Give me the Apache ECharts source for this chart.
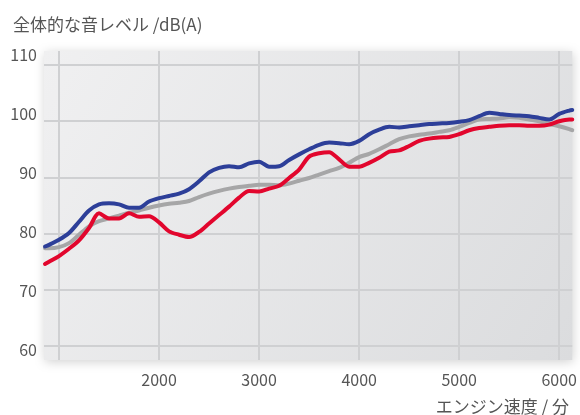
<!DOCTYPE html>
<html>
<head>
<meta charset="utf-8">
<script src="https://cdn.jsdelivr.net/npm/echarts@6/dist/echarts.min.js"></script>
<style>
  html, body { margin: 0; padding: 0; background: #fff; }
  #chart { width: 580px; height: 415px; }
</style>
</head>
<body>
<div id="chart"></div>
<script>
// engine speed (rpm) sample points, shared by all three curves
const rpm = [860, 900, 1000, 1100, 1200, 1300, 1400, 1500, 1600, 1700, 1800, 1900,
  2000, 2100, 2200, 2300, 2400, 2500, 2600, 2700, 2800, 2900,
  3000, 3100, 3200, 3300, 3400, 3500, 3600, 3700, 3800, 3900,
  4000, 4100, 4200, 4300, 4400, 4500, 4600, 4700, 4800, 4900,
  5000, 5100, 5200, 5300, 5400, 5500, 5600, 5700, 5800, 5900,
  6000, 6100, 6130];

const blueDb = [77.7, 78.0, 78.9, 80.1, 82.1, 84.1, 85.2, 85.4, 85.2, 84.6, 84.6, 85.7,
  86.3, 86.7, 87.1, 87.9, 89.3, 90.9, 91.7, 92.0, 91.8, 92.5,
  92.8, 91.9, 92.0, 93.1, 94.1, 95.0, 95.8, 96.2, 96.1, 95.9,
  96.5, 97.7, 98.5, 99.0, 98.9, 99.1, 99.3, 99.5, 99.6, 99.7,
  99.9, 100.2, 100.9, 101.5, 101.3, 101.1, 101.0, 100.9, 100.6, 100.3,
  101.3, 101.9, 102.0];

const redDb = [74.6, 75.0, 76.0, 77.3, 78.8, 81.0, 83.6, 82.7, 82.7, 83.6, 83.0, 83.1,
  82.0, 80.4, 79.8, 79.4, 80.3, 81.8, 83.3, 84.8, 86.4, 87.6,
  87.5, 88.0, 88.5, 89.9, 91.4, 93.7, 94.3, 94.5, 93.2, 91.9,
  91.9, 92.6, 93.5, 94.6, 94.8, 95.6, 96.5, 96.9, 97.1, 97.2,
  97.7, 98.4, 98.8, 99.0, 99.2, 99.3, 99.3, 99.2, 99.2, 99.4,
  100.0, 100.3, 100.3];

const grayDb = [77.4, 77.4, 77.6, 78.3, 79.8, 81.3, 82.2, 82.7, 83.2, 83.7, 84.1, 84.6,
  85.0, 85.3, 85.5, 85.8, 86.5, 87.1, 87.6, 88.0, 88.3, 88.5,
  88.7, 88.7, 88.6, 88.9, 89.4, 89.9, 90.5, 91.1, 91.7, 92.6,
  93.6, 94.2, 95.0, 95.9, 96.8, 97.3, 97.6, 97.8, 98.1, 98.4,
  99.0, 99.7, 100.3, 100.4, 100.5, 100.7, 100.6, 100.3, 100.0, 99.5,
  99.1, 98.6, 98.4];

const xGridTicks = [1000, 2000, 3000, 4000, 5000, 6000];
const xLabels = [2000, 3000, 4000, 5000, 6000];
const yTicks = [60, 70, 80, 90, 100, 110];

const chart = echarts.init(document.getElementById("chart"));

const pairs = (vals) => rpm.map((r, i) => [r, vals[i]]);
const textColor = "#555";
const font = "'Noto Sans CJK JP', 'Noto Sans', sans-serif";

const lineSeries = (name, vals, color) => ({
  name,
  type: "line",
  data: pairs(vals),
  showSymbol: false,
  smooth: 0.3,
  lineStyle: { color, width: 4, cap: "round", join: "round" },
  z: 3,
});

chart.setOption({
  animation: false,
  textStyle: { fontFamily: font },
  title: [
    {
      text: "全体的な音レベル /dB(A)",
      left: 8,
      top: 11,
      textStyle: { color: textColor, fontSize: 17, fontWeight: "normal", fontFamily: font },
    },
    {
      text: "エンジン速度 / 分",
      right: 6,
      top: 393,
      textStyle: { color: textColor, fontSize: 17, fontWeight: "normal", fontFamily: font },
    },
  ],
  grid: {
    left: 44,
    right: 7,
    top: 51,
    bottom: 55,
    show: true,
    borderWidth: 0,
    backgroundColor: {
      type: "linear",
      x: 0, y: 0, x2: 1, y2: 1,
      colorStops: [
        { offset: 0, color: "#f0f0f1" },
        { offset: 1, color: "#dbdcde" },
      ],
    },
    shadowBlur: 10,
    shadowColor: "rgba(0,0,0,0.18)",
    shadowOffsetX: 1,
    shadowOffsetY: 2,
  },
  xAxis: {
    type: "value",
    min: 850,
    max: 6130,
    axisLine: { show: false },
    axisTick: { show: false, customValues: xGridTicks },
    axisLabel: {
      customValues: xLabels,
      formatter: (v) => String(v),
      color: textColor,
      fontSize: 16,
      margin: 12,
    },
    splitLine: { show: true, lineStyle: { color: "#cfd0d2", width: 2 } },
  },
  yAxis: [
    {
      type: "value",
      min: 57.5,
      max: 112.5,
      axisLine: { show: false },
      axisTick: { show: false, customValues: yTicks },
      axisLabel: { show: false },
      splitLine: { show: true, lineStyle: { color: "#cfd0d2", width: 2 } },
    },
    {
      // label-only axis: the printed numbers sit on a slightly wider pitch than the grid lines
      type: "value",
      position: "left",
      min: 58.3,
      max: 110.7,
      axisLine: { show: false },
      axisTick: { show: false, customValues: yTicks },
      axisLabel: { customValues: yTicks, color: textColor, fontSize: 16, margin: 7 },
      splitLine: { show: false },
    },
  ],
  series: [
    lineSeries("gray", grayDb, "#a6a6a7"),
    lineSeries("red", redDb, "#e2062d"),
    lineSeries("blue", blueDb, "#2d3f99"),
  ],
});
</script>
</body>
</html>
